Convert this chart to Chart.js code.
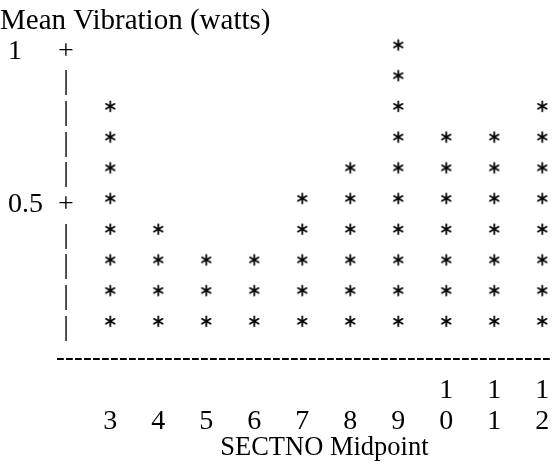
<!DOCTYPE html>
<html>
<head>
<meta charset="utf-8">
<script src="https://cdn.jsdelivr.net/npm/chart.js@4/dist/chart.umd.min.js"></script>
<style>
  body { margin: 0; background: #fff; }
</style>
</head>
<body>
<canvas id="myChart" width="552" height="465"></canvas>
<script>
// chart values
var sectno = [3, 4, 5, 6, 7, 8, 9, 10, 11, 12];
var meanVib = [0.8, 0.4, 0.3, 0.3, 0.5, 0.6, 1.0, 0.7, 0.7, 0.8];
// one symbol row per level
var yLevels = [0.1, 0.2, 0.3, 0.4, 0.5, 0.6, 0.7, 0.8, 0.9, 1.0];
var yLabelVals = [0.5, 1];

Chart.defaults.font.family = "'Liberation Serif', serif";
Chart.defaults.font.size = 28;
Chart.defaults.color = '#000';

// asterisk symbol, drawn a bit above the row like the text glyph
var star = document.createElement('canvas');
star.width = 24;
star.height = 24;
(function () {
    var c = star.getContext('2d');
    c.strokeStyle = '#000';
    c.lineWidth = 1.7;
    c.lineCap = 'round';
    var cx = 12, cy = 12 - 2.65, r = 5;
    [90, 30, 150].forEach(function (a) {
        var t = a * Math.PI / 180;
        c.beginPath();
        c.moveTo(cx - r * Math.cos(t), cy - r * Math.sin(t));
        c.lineTo(cx + r * Math.cos(t), cy + r * Math.sin(t));
        c.stroke();
    });
})();

// stack a symbol for every level reached by the bar
var points = [];
sectno.forEach(function (s, i) {
    yLevels.forEach(function (lv) {
        if (lv <= meanVib[i] + 1e-9) {
            points.push({x: s, y: lv});
        }
    });
});

var yMin = -0.0142, yMax = 1.0;

var ctx = document.getElementById('myChart').getContext('2d');
new Chart(ctx, {
    type: 'scatter',
    data: {
        datasets: [{
            data: points,
            pointStyle: star,
            pointRadius: 6,
            clip: false
        }]
    },
    options: {
        responsive: false,
        animation: false,
        events: [],
        layout: {autoPadding: false, padding: 0},
        plugins: {
            legend: {display: false},
            tooltip: {enabled: false},
            title: {
                display: true,
                text: 'Mean Vibration (watts)',
                align: 'start',
                color: '#000',
                font: {size: 29, weight: 'normal', lineHeight: 1.2},
                padding: {top: 3.5, bottom: 9.35}
            }
        },
        scales: {
            x: {
                type: 'linear',
                min: 1.89,
                max: 12.202,
                grid: {display: false},
                border: {display: false},
                afterBuildTicks: function (s) {
                    s.ticks = sectno.map(function (v) { return {value: v}; });
                },
                ticks: {
                    autoSkip: false,
                    maxRotation: 0,
                    padding: 8.65,
                    font: {size: 28, lineHeight: '30.7px'},
                    callback: function (v) {
                        return String(v).padStart(2, ' ').split('');
                    }
                },
                title: {
                    display: true,
                    text: '      SECTNO Midpoint',
                    font: {size: 26.5, lineHeight: 1.2},
                    padding: {top: 0, bottom: 1}
                },
                afterFit: function (s) {
                    s.height = 106;
                    s.paddingLeft = 0;
                    s.paddingRight = 0;
                }
            },
            y: {
                type: 'linear',
                position: 'left',
                weight: 1,
                min: yMin,
                max: yMax,
                grid: {display: false},
                border: {display: false},
                afterBuildTicks: function (s) {
                    s.ticks = yLevels.map(function (v) { return {value: v}; });
                },
                ticks: {
                    autoSkip: false,
                    mirror: true,
                    crossAlign: 'center',
                    padding: 1.1,
                    labelOffset: 3.5,
                    callback: function (v) {
                        return yLabelVals.indexOf(v) >= 0 ? '+' : '|';
                    }
                },
                afterFit: function (s) { s.width = 1; }
            },
            yNum: {
                type: 'linear',
                axis: 'y',
                position: 'left',
                weight: 2,
                min: yMin,
                max: yMax,
                grid: {display: false},
                border: {display: false},
                afterBuildTicks: function (s) {
                    s.ticks = yLabelVals.map(function (v) { return {value: v}; });
                },
                ticks: {
                    autoSkip: false,
                    crossAlign: 'far',
                    labelOffset: 3.5,
                    callback: function (v) { return String(v); }
                },
                afterFit: function (s) { s.width = 48; }
            },
            // outer spacer; its single grid line at the bottom is the dashed axis
            yPad: {
                type: 'linear',
                axis: 'y',
                position: 'left',
                weight: 3,
                min: yMin,
                max: yMax,
                afterBuildTicks: function (s) {
                    s.ticks = [{value: yMin}];
                },
                grid: {display: true, drawTicks: false, color: '#000', lineWidth: 2},
                border: {display: false, dash: [6.8, 2.2]},
                ticks: {display: false},
                afterFit: function (s) { s.width = 8; }
            }
        }
    }
});
</script>
</body>
</html>
